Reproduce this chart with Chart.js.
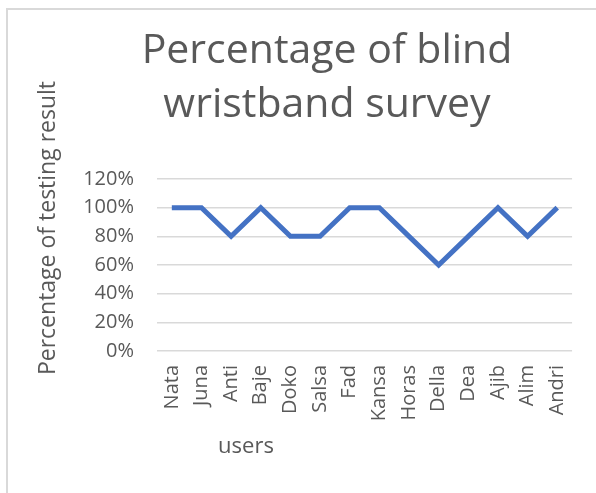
<!DOCTYPE html>
<html>
<head>
<meta charset="utf-8">
<script src="https://cdn.jsdelivr.net/npm/chart.js@4"></script>
<style>
  body { margin: 0; background: #fff; }
  #frame {
    position: absolute; left: 6px; top: 8px; width: 620px; height: 520px;
    border-left: 2px solid #d9d9d9; border-top: 2px solid #d9d9d9;
  }
  #chartSurvey { position: absolute; left: 0; top: 0; }
</style>
</head>
<body>
<div id="frame"></div>
<canvas id="chartSurvey" width="596" height="493"></canvas>
<script>
// Data survei gelang tunanetra
const users = ['Nata', 'Juna', 'Anti', 'Baje', 'Doko', 'Salsa', 'Fad', 'Kansa', 'Horas', 'Della', 'Dea', 'Ajib', 'Alim', 'Andri'];
const testingResult = [100, 100, 80, 100, 80, 80, 100, 100, 80, 60, 80, 100, 80, 100];
const yTicks = [0, 20, 40, 60, 80, 100, 120];

const titleLines = ['Percentage of blind', 'wristband survey'];
const yTitle = 'Percentage of testing result';
const xTitle = 'users';

const textColor = '#595959';
const fontFamily = '"Open Sans", sans-serif';

// Judul dan label sumbu digambar sendiri (posisinya tidak di tengah seperti biasa)
const captions = {
  id: 'captions',
  afterDraw(chart) {
    const c = chart.ctx;
    c.save();
    c.fillStyle = textColor;
    c.textAlign = 'center';
    c.textBaseline = 'alphabetic';

    c.font = '41px ' + fontFamily;
    titleLines.forEach((line, i) => c.fillText(line, 327, 63 + i * 54));

    c.font = '22px ' + fontFamily;
    c.fillText(xTitle, 246, 453);

    c.font = '23px ' + fontFamily;
    c.translate(55, 228);
    c.rotate(-Math.PI / 2);
    c.fillText(yTitle, 0, 0);
    c.restore();
  }
};

const ctx = document.getElementById('chartSurvey').getContext('2d');

const surveyChart = new Chart(ctx, {
  type: 'line',
  data: {
    labels: users,
    datasets: [{
      label: 'Percentage of testing result',
      data: testingResult,
      borderColor: '#4472C4',
      borderWidth: 5,
      pointRadius: 0,
      pointHoverRadius: 0,
      fill: false,
      tension: 0
    }]
  },
  options: {
    responsive: false,
    animation: false,
    layout: { padding: { top: 179, right: 21, bottom: 0, left: 0 } },
    plugins: {
      legend: { display: false },
      title: { display: false },
      tooltip: { enabled: false }
    },
    scales: {
      x: {
        offset: true,
        grid: { display: false, drawTicks: false },
        border: { display: false },
        ticks: {
          color: textColor,
          font: { family: fontFamily, size: 20 },
          minRotation: 90,
          maxRotation: 90,
          autoSkip: false,
          padding: 14
        },
        afterFit(scale) { scale.height = 142; }
      },
      y: {
        min: 0,
        max: 120,
        afterBuildTicks(scale) { scale.ticks = yTicks.map(v => ({ value: v })); },
        grid: { color: '#d9d9d9', lineWidth: 1.5, drawTicks: false },
        border: { display: false },
        ticks: {
          color: textColor,
          font: { family: fontFamily, size: 20 },
          padding: 23,
          callback: (v) => v + '%'
        },
        afterFit(scale) { scale.width = 157; }
      }
    }
  },
  plugins: [captions]
});
</script>
</body>
</html>
